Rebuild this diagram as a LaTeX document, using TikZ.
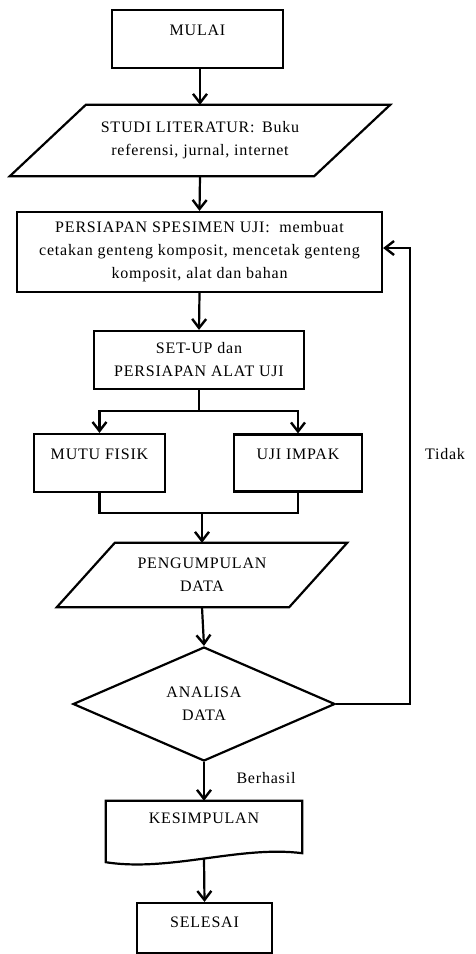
\documentclass[tikz,border=0pt]{standalone}
\usepackage{fontspec}
\setmainfont{Liberation Serif}[LetterSpace=5]
\usepackage{tikz}
\usetikzlibrary{shapes.geometric, arrows.meta, positioning}
\newcommand{\genjang}[2]{\draw[garis] ([xshift=#2]#1.north west) -- ([xshift=#2]#1.north east) -- ([xshift=-#2]#1.south east) -- ([xshift=-#2]#1.south west) -- cycle;}
\tikzstyle{garis} = [line width=2.2pt, line join=miter]
\tikzstyle{proses} = [garis, draw, rectangle, align=center, inner sep=0pt]
\tikzstyle{atas} = [text height=11pt, text depth=19pt]
\tikzstyle{data} = [rectangle, align=center, inner sep=0pt]
\tikzstyle{keputusan} = [garis, draw, diamond, aspect=2.3, inner sep=0pt, align=center]
\tikzstyle{dokumen} = [rectangle, align=center, inner sep=0pt, text height=11pt, text depth=19pt]
\tikzstyle{panah} = [garis, -{Straight Barb[length=9pt, width=14pt, line width=2.4pt]}]

\begin{document}
\begin{tikzpicture}[x=1pt, y=-1pt, every node/.style={font=\fontsize{16}{23}\selectfont}]
	\useasboundingbox (0,0) rectangle (475,954);
	\node[proses, atas, minimum width=171pt, minimum height=58pt] (mulai) at (197.5,39) {MULAI};
	\node[data, minimum width=304pt, minimum height=71pt] (studi) at (200,140.5) {STUDI LITERATUR: \,Buku\\referensi, jurnal, internet};
	\genjang{studi}{38pt}
	\node[proses, minimum width=365pt, minimum height=80pt] (persiapan) at (199.5,252) {PERSIAPAN SPESIMEN UJI: \ membuat\\cetakan genteng komposit, mencetak genteng\\komposit, alat dan bahan};
	\node[proses, minimum width=210pt, minimum height=58pt] (setup) at (199,360) {SET-UP dan\\PERSIAPAN ALAT UJI};
	\node[proses, atas, minimum width=131pt, minimum height=58pt] (mutu) at (99.5,463) {MUTU FISIK};
	\node[proses, atas, minimum width=128pt, minimum height=57pt] (uji) at (298,463) {UJI IMPAK};
	\node[data, minimum width=232pt, minimum height=64pt] (pengumpulan) at (202,575) {PENGUMPULAN\\DATA};
	\genjang{pengumpulan}{29pt}
	\node[keputusan, minimum width=262pt, minimum height=114pt] (analisa) at (204,704) {ANALISA\\DATA};
	\node[dokumen, minimum width=196pt, minimum height=52pt] (kesimpulan) at (204,827) {KESIMPULAN};
	\draw[garis] (kesimpulan.north west) -- (kesimpulan.north east) -- (kesimpulan.south east)
		.. controls ([xshift=-62pt,yshift=8pt]kesimpulan.south east) and ([xshift=64pt,yshift=-19pt]kesimpulan.south west) .. ([yshift=-9pt]kesimpulan.south west) -- cycle;
	\node[proses, text height=11pt, text depth=13pt, minimum width=135pt, minimum height=50pt] (selesai) at (204.5,928) {SELESAI};
	\node (berhasil) at (266,778) {Berhasil};
	\node (tidak) at (445,454) {Tidak};
	% alur utama
	\draw[panah] (studi.north |- mulai.south) -- (studi.north);
	\draw[panah] (studi.south) -- (persiapan.north);
	\draw[panah] (persiapan.south) -- (setup.north);
	\draw[garis] (setup.south) -- ++(0,21) coordinate (cabang);
	\draw[panah] (cabang) -| (mutu.north);
	\draw[panah] (cabang) -| (uji.north);
	\coordinate (gabung) at (202,513);
	\draw[garis] (mutu.south) |- (gabung) -| (uji.south);
	\draw[panah] (gabung) -- (pengumpulan.north);
	\draw[panah] (pengumpulan.south) -- (analisa.north);
	\draw[panah] (analisa.south) -- (kesimpulan.north);
	\draw[panah] ([yshift=-5pt]kesimpulan.south) -- (selesai.north);
	% kembali jika tidak berhasil
	\coordinate (balik) at (410,704);
	\draw[panah] (analisa.east) -- (balik) |- ([yshift=4pt]persiapan.east);
\end{tikzpicture}
\end{document}
